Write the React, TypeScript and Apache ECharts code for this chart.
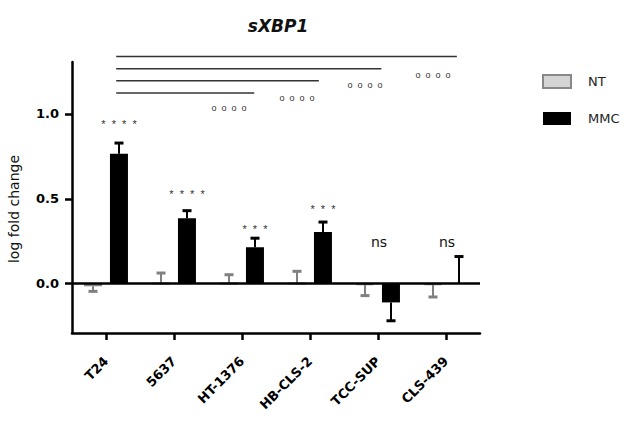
import React, { useEffect, useRef } from 'react';
import * as echarts from 'echarts';

const categories = ['T24', '5637', 'HT-1376', 'HB-CLS-2', 'TCC-SUP', 'CLS-439'];
const ntValues = [-0.015, 0.003, 0.003, 0.003, -0.005, -0.005];
const ntErrors = [0.03, 0.06, 0.05, 0.07, 0.065, 0.073];
const mmcValues = [0.765, 0.385, 0.215, 0.305, -0.11, 0.002];
const mmcErrors = [0.063, 0.045, 0.053, 0.058, 0.108, 0.158];

const sigLabels = ['*  *  *  *', '*  *  *  *', '*  *  *', '*  *  *', 'ns', 'ns'];
const sigY = [0.955, 0.543, 0.341, 0.455, 0.243, 0.243];

// brackets: from T24 MMC to each target MMC (positions in category units)
const bracketStart = 0.65;
const bracketEnd = [5.66, 4.55, 3.63, 2.68];
const bracketY = [1.337, 1.265, 1.194, 1.122];
const bracketTargets = [5, 4, 3, 2];
const bracketMarks = ['o  o  o  o', 'o  o  o  o', 'o  o  o  o', 'o  o  o  o'];
const bracketMarkY = [1.229, 1.171, 1.092, 1.037];

const yTicks = [0, 0.5, 1.0];

const FONT = '"DejaVu Sans", Verdana, sans-serif';
const FONT_S = '"Liberation Sans", Arial, sans-serif';

export default function App() {
  const ref = useRef<HTMLDivElement>(null);
  useEffect(() => {
    document.body.style.margin = '0';
    const chart = echarts.init(ref.current!, null, { renderer: 'svg' });
    const OFF = 13;

    const errorItem = (side: number, color: string, values: number[], errors: number[]) =>
      (params: any, api: any) => {
        const i = params.dataIndex;
        const v = values[i];
        const e = errors[i];
        const dir = v < 0 ? -1 : 1;
        const p0 = api.coord([i, v]);
        const p1 = api.coord([i, v + dir * e]);
        const x = p0[0] + side * OFF;
        return {
          type: 'group',
          children: [
            { type: 'line', shape: { x1: x, y1: p0[1], x2: x, y2: p1[1] }, style: { stroke: color, lineWidth: 2 } },
            { type: 'line', shape: { x1: x - 4.5, y1: p1[1], x2: x + 4.5, y2: p1[1] }, style: { stroke: color, lineWidth: 3 } },
          ],
        };
      };

    const option: any = {
      animation: false,
      backgroundColor: '#fff',
      title: {
        text: 'sXBP1',
        left: 273,
        top: 12,
        textAlign: 'center',
        textStyle: { fontFamily: FONT, fontSize: 17, fontWeight: 'bold', fontStyle: 'italic', color: '#111' },
      },
      legend: {
        data: ['NT', 'MMC'],
        orient: 'vertical',
        left: 537,
        top: 69,
        itemWidth: 28,
        itemHeight: 13,
        itemGap: 23,
        icon: 'rect',
        textStyle: { fontFamily: FONT, fontSize: 13, color: '#222', padding: [0, 0, 0, 12] },
      },
      grid: { left: 72, right: 155, top: 62, bottom: 93, outerBoundsMode: 'none' },
      xAxis: {
        type: 'category',
        data: categories,
        boundaryGap: true,
        axisLine: { onZero: false, lineStyle: { color: '#000', width: 2.5 } },
        axisTick: { show: true, interval: 0, alignWithLabel: true, length: 7, lineStyle: { color: '#000', width: 2.5 } },
        axisLabel: {
          rotate: 45,
          margin: 26,
          interval: 0,
          fontFamily: FONT,
          fontSize: 13,
          fontWeight: 'bold',
          color: '#000',
        },
      },
      yAxis: {
        type: 'value',
        min: -0.29,
        max: 1.305,
        splitLine: { show: false },
        axisLine: { show: true, lineStyle: { color: '#000', width: 2.5 } },
        axisTick: { show: true, length: 7, customValues: yTicks, lineStyle: { color: '#000', width: 2.5 } },
        axisLabel: {
          customValues: yTicks,
          margin: 13,
          formatter: (v: number) => v.toFixed(1),
          fontFamily: FONT,
          fontSize: 13,
          fontWeight: 'bold',
          color: '#000',
        },
      },
      graphic: [
        {
          type: 'text',
          x: 14,
          y: 209,
          rotation: Math.PI / 2,
          style: {
            text: 'log fold change',
            fontFamily: FONT,
            fontSize: 14,
            fill: '#111',
            align: 'center',
            verticalAlign: 'middle',
          },
        },
      ],
      series: [
        {
          name: 'NT',
          type: 'bar',
          data: ntValues,
          barWidth: 18,
          barGap: '44%',
          itemStyle: { color: '#d4d4d4', borderColor: '#888', borderWidth: 2 },
        },
        {
          name: 'MMC',
          type: 'bar',
          data: mmcValues,
          barWidth: 18,
          barGap: '44%',
          itemStyle: { color: '#000' },
          markLine: {
            silent: true,
            symbol: 'none',
            label: { show: false },
            lineStyle: { color: '#000', width: 2.5, type: 'solid' },
            data: [{ yAxis: 0 }],
          },
        },
        {
          type: 'custom',
          data: ntValues.map((v, i) => [i, v]),
          encode: { x: 0, y: 1 },
          renderItem: errorItem(-1, '#808080', ntValues, ntErrors),
          z: 3,
        },
        {
          type: 'custom',
          data: mmcValues.map((v, i) => [i, v]),
          encode: { x: 0, y: 1 },
          renderItem: errorItem(1, '#000', mmcValues, mmcErrors),
          z: 3,
        },
        {
          type: 'custom',
          data: sigY.map((y, i) => [i, y]),
          encode: { x: 0, y: 1 },
          clip: false,
          renderItem: (params: any, api: any) => {
            const i = params.dataIndex;
            const p = api.coord([i, sigY[i]]);
            const isNs = sigLabels[i] === 'ns';
            return {
              type: 'text',
              x: p[0] + (isNs ? 1 : OFF),
              y: p[1] + (isNs ? 0 : 3),
              style: {
                text: sigLabels[i],
                fontFamily: isNs ? FONT : FONT_S,
                fontSize: isNs ? 14 : 11,
                fill: isNs ? '#111' : '#333',
                align: 'center',
                verticalAlign: 'middle',
              },
            };
          },
        },
        {
          type: 'custom',
          data: bracketY.map((y, i) => [0, y]),
          encode: { x: 0, y: 1 },
          clip: false,
          renderItem: (params: any, api: any) => {
            const i = params.dataIndex;
            const band = api.size([1, 0])[0];
            const c0 = api.coord([0, bracketY[i]]);
            const xs = c0[0] + (bracketStart - 0.5) * band;
            const xe = c0[0] + (bracketEnd[i] - 0.5) * band;
            const pm = api.coord([bracketTargets[i], bracketMarkY[i]]);
            return {
              type: 'group',
              children: [
                { type: 'line', shape: { x1: xs, y1: c0[1], x2: xe, y2: c0[1] }, style: { stroke: '#333', lineWidth: 1.5 } },
                {
                  type: 'text',
                  x: pm[0] - OFF,
                  y: pm[1],
                  style: {
                    text: bracketMarks[i],
                    fontFamily: FONT_S,
                    fontSize: 9,
                    fill: '#333',
                    align: 'center',
                    verticalAlign: 'middle',
                  },
                },
              ],
            };
          },
        },
      ],
    };
    chart.setOption(option);
    return () => chart.dispose();
  }, []);
  return <div ref={ref} style={{ width: 635, height: 426 }} />;
}
